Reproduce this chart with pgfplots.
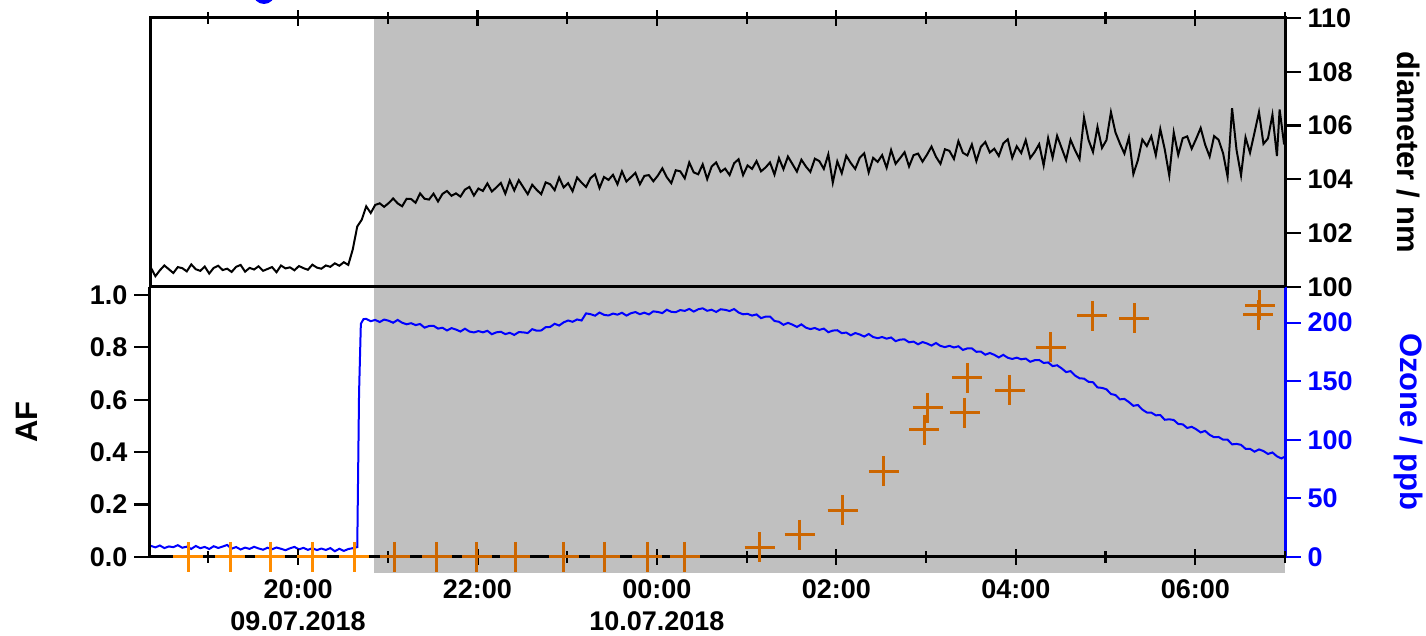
\documentclass[border=0pt]{standalone}
\usepackage{fontspec}
\setmainfont{Liberation Sans}
\usepackage{pgfplots}
\usepackage{pgfplotstable}
\pgfplotsset{compat=1.18}

\definecolor{periodgray}{HTML}{C0C0C0}
\definecolor{afpre}{HTML}{FF8C00}
\definecolor{afin}{HTML}{CC6600}
\definecolor{ozblue}{HTML}{0000FF}

% particle diameter (nm), time in hours from 09.07.2018 00:00
\pgfplotstableread{
t d
18.36 100.72
18.41 100.40
18.46 100.62
18.51 100.80
18.56 100.66
18.61 100.52
18.66 100.74
18.71 100.70
18.76 100.58
18.81 100.84
18.86 100.66
18.91 100.60
18.96 100.76
19.01 100.50
19.06 100.71
19.11 100.79
19.16 100.63
19.21 100.68
19.26 100.56
19.31 100.75
19.36 100.82
19.41 100.57
19.46 100.71
19.51 100.65
19.56 100.77
19.61 100.60
19.66 100.67
19.71 100.74
19.76 100.55
19.81 100.80
19.86 100.69
19.91 100.73
19.96 100.62
20.01 100.78
20.06 100.70
20.11 100.64
20.16 100.83
20.21 100.72
20.26 100.68
20.31 100.80
20.36 100.75
20.41 100.88
20.46 100.79
20.51 100.92
20.56 100.82
20.61 101.40
20.66 102.25
20.71 102.50
20.76 103.00
20.81 102.75
20.86 103.05
20.91 103.11
20.96 102.98
21.01 103.12
21.06 103.29
21.11 103.11
21.16 103.00
21.21 103.28
21.26 103.27
21.31 103.13
21.36 103.48
21.41 103.28
21.46 103.25
21.51 103.47
21.56 103.18
21.61 103.46
21.66 103.57
21.71 103.39
21.76 103.48
21.81 103.36
21.86 103.62
21.91 103.72
21.96 103.40
22.01 103.66
22.06 103.57
22.11 103.85
22.16 103.55
22.21 103.70
22.26 103.87
22.31 103.47
22.36 103.96
22.41 103.59
22.46 103.97
22.51 103.71
22.56 103.45
22.61 103.80
22.66 103.61
22.71 103.45
22.76 103.89
22.81 103.82
22.86 103.60
22.91 104.07
22.96 103.70
23.01 103.86
23.06 103.56
23.11 104.07
23.16 103.88
23.21 103.72
23.26 104.05
23.31 104.19
23.36 103.68
23.41 104.09
23.46 103.98
23.51 104.17
23.56 103.82
23.61 104.30
23.66 103.92
23.71 104.08
23.76 104.24
23.81 103.82
23.86 104.13
23.91 104.16
23.96 103.93
24.01 104.14
24.06 104.41
24.11 104.08
24.16 103.86
24.21 104.34
24.26 104.30
24.31 104.04
24.36 104.63
24.41 104.26
24.46 104.19
24.51 104.56
24.56 104.01
24.61 104.48
24.66 104.63
24.71 104.28
24.76 104.40
24.81 104.16
24.86 104.60
24.91 104.75
24.96 104.16
25.01 104.52
25.06 104.39
25.11 104.68
25.16 104.30
25.21 104.44
25.26 104.63
25.31 104.18
25.36 104.79
25.41 104.38
25.46 104.85
25.51 104.57
25.56 104.29
25.61 104.73
25.66 104.48
25.71 104.28
25.76 104.77
25.81 104.68
25.86 104.39
25.91 104.93
25.96 103.88
26.01 104.67
26.06 104.23
26.11 104.88
26.16 104.61
26.21 104.39
26.26 104.80
26.31 104.97
26.36 104.26
26.41 104.80
26.46 104.65
26.51 104.90
26.56 104.43
26.61 105.09
26.66 104.58
26.71 104.79
26.76 105.01
26.81 104.48
26.86 104.90
26.91 104.96
26.96 104.66
27.01 104.92
27.06 105.22
27.11 104.84
27.16 104.58
27.21 105.12
27.26 105.06
27.31 104.76
27.36 105.42
27.41 104.99
27.46 104.89
27.51 105.30
27.56 104.68
27.61 105.21
27.66 105.39
27.71 105.00
27.76 105.14
27.81 104.87
27.86 105.34
27.91 105.49
27.96 104.80
28.01 105.23
28.06 104.98
28.11 105.46
28.16 104.79
28.21 105.02
28.26 105.31
28.31 104.52
28.36 105.53
28.41 104.81
28.46 105.62
28.51 105.17
28.56 104.72
28.61 105.47
28.66 105.08
28.71 104.75
28.76 106.30
28.81 105.47
28.86 105.02
28.91 105.95
28.96 105.17
29.01 105.46
29.06 106.50
29.11 105.75
29.16 105.33
29.21 104.96
29.26 105.56
29.31 104.20
29.36 104.71
29.41 105.48
29.46 105.24
29.51 105.60
29.56 104.90
29.61 105.87
29.66 105.11
29.71 104.15
29.76 105.74
29.81 104.91
29.86 105.53
29.91 105.60
29.96 105.14
30.01 105.51
30.06 105.91
30.11 105.29
30.16 104.85
30.21 105.61
30.26 105.47
30.31 104.97
30.36 104.10
30.41 106.65
30.46 105.09
30.51 104.15
30.56 105.56
30.61 104.99
30.66 105.74
30.71 106.50
30.76 105.32
30.81 105.52
30.86 106.40
30.91 104.87
30.94 106.60
30.99 105.30
}\diamtab

% ozone mixing ratio (ppb)
\pgfplotstableread{
t o
18.36 9.5
18.41 8.2
18.46 9.8
18.51 7.6
18.56 9.0
18.61 8.4
18.66 10.1
18.71 7.9
18.76 8.8
18.81 6.9
18.86 9.4
18.91 7.5
18.96 8.6
19.01 6.8
19.06 9.2
19.11 7.7
19.16 8.9
19.21 10.3
19.26 7.1
19.31 8.5
19.36 6.4
19.41 8.0
19.46 6.9
19.51 8.7
19.56 7.3
19.61 6.2
19.66 7.9
19.71 6.6
19.76 8.1
19.81 7.0
19.86 5.8
19.91 7.4
19.96 8.6
20.01 6.5
20.06 7.8
20.11 6.1
20.16 7.5
20.21 5.9
20.26 7.2
20.31 6.0
20.36 7.6
20.41 4.9
20.46 7.0
20.51 5.2
20.56 6.8
20.61 7.5
20.66 8.5
20.68 140.0
20.70 199.0
20.73 203.0
20.76 203.2
20.81 201.2
20.86 202.3
20.91 200.5
20.96 202.6
21.01 201.6
21.06 199.9
21.11 202.3
21.16 199.9
21.21 198.6
21.26 199.5
21.31 197.9
21.36 198.8
21.41 195.7
21.46 197.1
21.51 197.3
21.56 194.9
21.61 195.6
21.66 193.3
21.71 195.3
21.76 194.1
21.81 192.4
21.86 194.8
21.91 192.4
21.96 191.6
22.01 192.8
22.06 191.7
22.11 193.0
22.16 190.1
22.21 191.7
22.26 192.2
22.31 190.2
22.36 191.3
22.41 189.5
22.46 191.9
22.51 191.7
22.56 191.1
22.61 194.4
22.66 193.1
22.71 193.3
22.76 196.1
22.81 196.3
22.86 199.0
22.91 197.5
22.96 200.2
23.01 201.8
23.06 200.7
23.11 202.7
23.16 201.8
23.21 207.9
23.26 207.2
23.31 205.9
23.36 208.6
23.41 206.6
23.46 206.1
23.51 207.7
23.56 206.8
23.61 208.4
23.66 206.0
23.71 208.0
23.76 209.0
23.81 207.2
23.86 208.5
23.91 207.0
23.96 209.6
24.01 209.1
24.06 208.1
24.11 211.0
24.16 209.2
24.21 208.9
24.26 210.7
24.31 210.0
24.36 211.7
24.41 209.4
24.46 211.4
24.51 212.2
24.56 210.1
24.61 211.0
24.66 209.1
24.71 211.4
24.76 210.9
24.81 209.9
24.86 211.6
24.91 208.6
24.96 207.1
25.01 207.5
25.06 206.0
25.11 207.0
25.16 203.8
25.21 205.1
25.26 205.2
25.31 201.4
25.36 200.7
25.41 198.1
25.46 199.8
25.51 198.3
25.56 196.3
25.61 198.5
25.66 195.7
25.71 194.5
25.76 195.4
25.81 193.8
25.86 194.9
25.91 191.8
25.96 193.2
26.01 193.5
26.06 191.0
26.11 191.5
26.16 189.2
26.21 191.1
26.26 189.9
26.31 188.1
26.36 190.3
26.41 187.7
26.46 186.7
26.51 187.7
26.56 186.3
26.61 187.3
26.66 184.2
26.71 185.5
26.76 185.7
26.81 183.2
26.86 183.8
26.91 181.5
26.96 183.4
27.01 182.2
27.06 180.4
27.11 182.6
27.16 180.1
27.21 179.1
27.26 180.2
27.31 178.8
27.36 179.8
27.41 176.7
27.46 178.0
27.51 178.0
27.56 175.1
27.61 175.3
27.66 172.6
27.71 174.1
27.76 172.5
27.81 170.3
27.86 172.5
27.91 170.0
27.96 169.0
28.01 170.1
28.06 168.7
28.11 169.3
28.16 166.6
28.21 167.9
28.26 168.1
28.31 165.6
28.36 166.0
28.41 162.9
28.46 163.6
28.51 161.0
28.56 157.8
28.61 158.6
28.66 154.8
28.71 152.5
28.76 152.2
28.81 149.5
28.86 149.1
28.91 144.7
28.96 144.3
29.01 143.1
29.06 139.1
29.11 138.2
29.16 134.5
29.21 134.9
29.26 132.2
29.31 129.0
29.36 129.7
29.41 125.8
29.46 123.3
29.51 123.2
29.56 120.9
29.61 121.1
29.66 117.1
29.71 117.5
29.76 116.9
29.81 113.5
29.86 113.2
29.91 110.1
29.96 111.1
30.01 109.0
30.06 106.3
30.11 107.6
30.16 104.2
30.21 102.2
30.26 102.4
30.31 100.1
30.36 100.1
30.41 96.1
30.46 96.5
30.51 95.7
30.56 92.3
30.61 92.3
30.66 89.9
30.71 91.8
30.76 90.4
30.81 87.9
30.86 89.2
30.91 85.9
30.96 84.1
30.99 85.3
}\ozonetab

% activated fraction before the shaded period
\pgfplotstableread{
t af
18.775 0
19.243 0
19.688 0
20.156 0
20.624 0
}\afpretab

% activated fraction during the shaded period
\pgfplotstableread{
t af
21.080 0
21.548 0
21.990 0
22.420 0
22.960 0
23.420 0
23.890 0
24.310 0
25.145 0.038
25.590 0.084
26.070 0.179
26.530 0.328
26.980 0.485
27.016 0.569
27.430 0.550
27.460 0.683
27.930 0.637
28.390 0.800
28.850 0.920
29.320 0.910
30.700 0.925
30.720 0.960
}\afintab

\pgfplotsset{
  panel/.style={
    scale only axis, width=567.5pt, anchor=south west,
    xmin=18.35, xmax=31,
    tick label style={font=\fontsize{13.5}{16}\selectfont\bfseries},
    label style={font=\fontsize{15.5}{18}\selectfont\bfseries},
    /pgf/number format/assume math mode=true,
    axis line style={line width=1.5pt},
    every tick/.style={line width=1.1pt, black},
    major tick length=7.75pt, minor tick length=6pt,
    xtick={20,22,24,26,28,30},
    minor xtick={19,21,23,25,27,29,31},
    xtick align=center, ytick align=outside,
    clip=false,
  },
}

\begin{document}
\begin{tikzpicture}
% shaded period behind both panels
\begin{axis}[panel, at={(75pt,39.5pt)}, height=135pt, ymin=0, ymax=1.03, hide axis]
  \fill[periodgray] (axis cs:20.846,-0.0611) rectangle (axis cs:31,2.056);
\end{axis}

% upper panel: particle diameter
\begin{axis}[panel, at={(75pt,174.5pt)}, height=134.5pt,
  ymin=100, ymax=110, ytick={100,102,...,110},
  xtick pos=right, xticklabels={},
  ytick pos=right, yticklabel pos=right,
  ylabel={diameter / nm},
  ylabel style={at={(axis description cs:1.1084,0.5)}, anchor=center, rotate=180},
  clip=true]
  \addplot[black, line width=1pt] table[x=t, y=d] {\diamtab};
\end{axis}

% lower panel, right axis: ozone
\begin{axis}[panel, at={(75pt,39.5pt)}, height=135pt,
  ymin=0, ymax=230.4, ytick={0,50,...,200},
  axis x line=none, axis y line*=right,
  y axis line style={ozblue, line width=1.5pt, -},
  every y tick/.style={line width=1.1pt, ozblue},
  yticklabel style={ozblue},
  ylabel={Ozone / ppb}, ylabel style={ozblue, at={(axis description cs:1.1084,0.5)}, anchor=center, rotate=180},
  clip=true]
  \addplot[ozblue, line width=1pt] table[x=t, y=o] {\ozonetab};
\end{axis}

% lower panel, left axis: activated fraction
\begin{axis}[panel, at={(75pt,39.5pt)}, height=135pt,
  ymin=0, ymax=1.03,
  ytick={0,0.2,0.4,0.6,0.8,1.0},
  yticklabels={0.0,0.2,0.4,0.6,0.8,1.0},
  axis x line*=box, axis y line*=left,
  axis line style={line width=1.5pt, -},
  xtick pos=left, ytick pos=left,
  xticklabels={20:00\\09.07.2018, 22:00, 00:00\\10.07.2018, 02:00, 04:00, 06:00},
  xticklabel style={align=center},
  xticklabel shift=4pt,
  ylabel={AF}, ylabel style={at={(axis description cs:-0.1084,0.5)}, anchor=center}]
  \addplot[only marks, mark=+, mark size=7.5pt, afpre, line width=1.5pt] table[x=t, y=af] {\afpretab};
  \addplot[only marks, mark=+, mark size=7.5pt, afin, line width=1.5pt] table[x=t, y=af] {\afintab};
\end{axis}

\fill[ozblue] (132pt,321.5pt) circle (5.5pt);
\pgfresetboundingbox
\useasboundingbox (0,0) rectangle (713pt,318pt);
\end{tikzpicture}
\end{document}
